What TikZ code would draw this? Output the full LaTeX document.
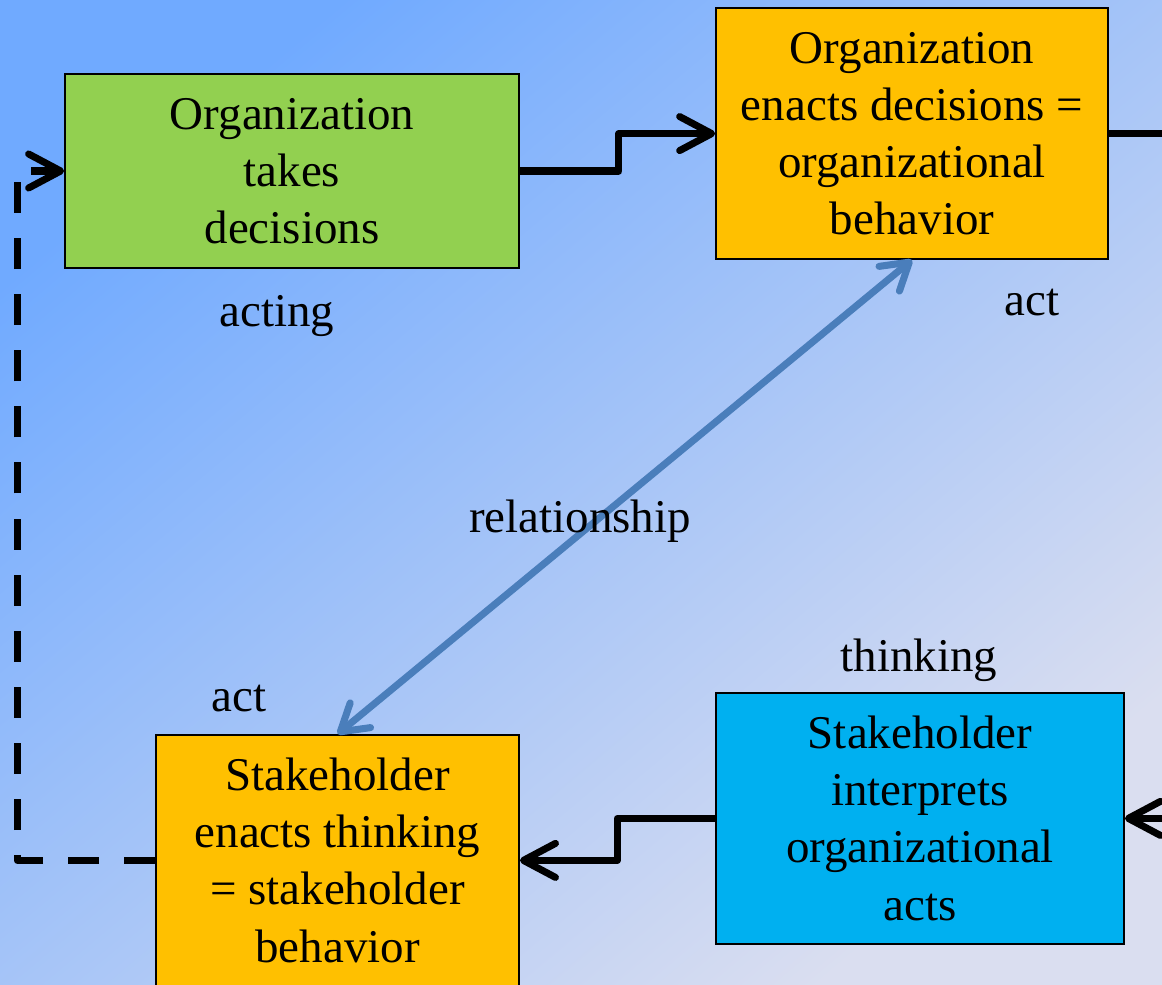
\documentclass[tikz,border=0pt]{standalone}
\usepackage{fontspec}
\setmainfont{Liberation Serif}
\usepackage{xcolor}
\usetikzlibrary{positioning,arrows.meta}
\definecolor{bgtop}{RGB}{112,170,255}
\definecolor{bgmid}{RGB}{155,200,250}
\definecolor{bgbot}{RGB}{218,222,240}
\definecolor{leafgreen}{RGB}{146,208,80}
\definecolor{amber}{RGB}{255,192,0}
\definecolor{skyfill}{RGB}{0,176,240}
\definecolor{relblue}{RGB}{74,126,187}
\tikzset{
>={Straight Barb[round,length=0.8cm,width=0.85cm]},
  decbox/.style={
    rectangle,
    draw=black, line width=1.2pt,
    align=center,
    inner sep=0pt,
    font=\fontsize{33.4}{40.6}\selectfont},
  lbl/.style={anchor=base, inner sep=0pt, font=\fontsize{33.4}{40.6}\selectfont},
  flow/.style={draw, line width=5pt, line join=round},
  loopback/.style={flow, dash pattern=on 0.775cm off 0.6275cm},
  rel/.style={draw=relblue, line width=5pt, line cap=round,
    {Straight Barb[round,length=0.65cm,width=0.8cm]}-{Straight Barb[round,length=0.65cm,width=0.8cm]}}
}

\begin{document}
\begin{tikzpicture}
    \clip (0,0) rectangle (29.05,24.6);
    \shade[top color=bgtop, middle color=bgmid, bottom color=bgbot, shading angle=40]
        (0,0) rectangle (29.05,24.6);
    \coordinate (rim) at (29.05,0);

    % the four stages
    \node[decbox, fill=leafgreen, minimum width=11.35cm, minimum height=4.85cm]
        (takes) at (7.3,20.325) {Organization\\takes\\decisions};
    \node[decbox, fill=amber, minimum width=9.8cm, minimum height=6.275cm]
        (orgact) at (22.8,21.26) {Organization\\enacts decisions =\\organizational\\behavior};
    \node[decbox, fill=skyfill, minimum width=10.2cm, minimum height=6.275cm]
        (interp) at (23.0,4.14) {Stakeholder\\interprets\\organizational\\acts};
    \node[decbox, fill=amber, minimum width=9.075cm, minimum height=6.275cm]
        (shact) at (8.44,3.09) {Stakeholder\\enacts thinking\\= stakeholder\\behavior};

    % connectors
    \draw[flow, ->] (takes.east) -- ++(2.475,0) |- (orgact.west);
    \draw[flow] (orgact.east) -- (orgact.east -| rim);
    \draw[flow, ->] (rim |- interp.east) -- (interp.east);
    \draw[flow, ->] (interp.west) -- ++(-2.45,0) |- (shact.east);
    \draw[loopback, ->] (shact.west) -- ++(-3.45,0) |- (takes.west);
    \draw[rel] (orgact.south) -- (shact.north);

    % labels
    \node[lbl] (acting) at (6.925,16.43) {acting};
    \node[lbl] (actorg) at (25.8,16.72) {act};
    \node[lbl] (relat) at (14.5,11.275) {relationship};
    \node[lbl] (thinking) at (22.975,7.8) {thinking};
    \node[lbl] (actsh) at (5.975,6.8) {act};
\end{tikzpicture}
\end{document}
